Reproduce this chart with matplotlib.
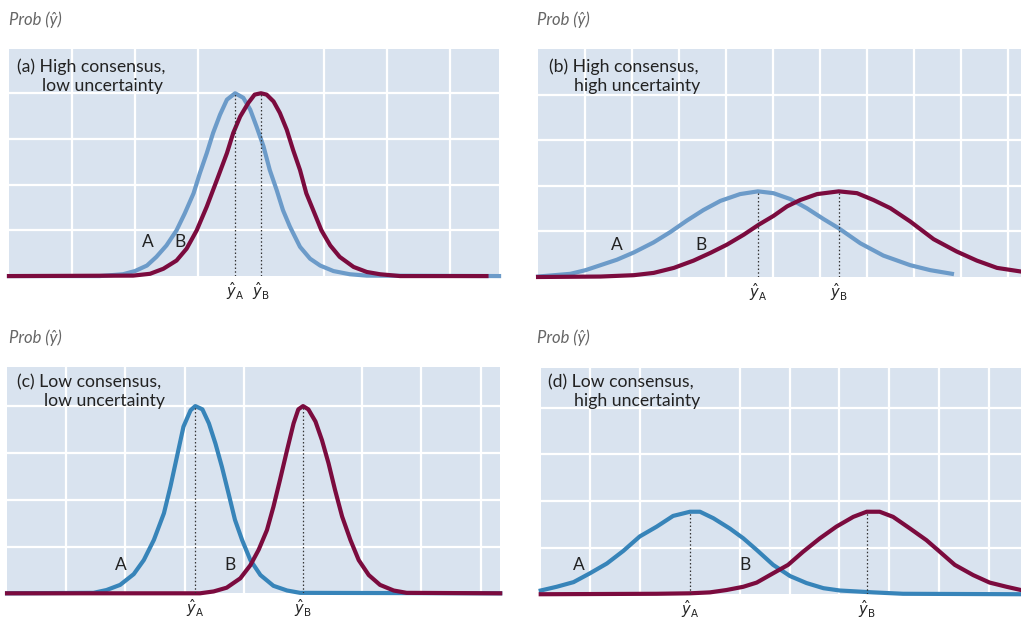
import numpy as np
import matplotlib.pyplot as plt

# colours
bg = '#d9e3ef'
blue_light = '#6c9bc9'
blue_dark = '#3784b9'
red = '#7b0b3e'

# ---- data (x in grid columns, y in grid rows) ----
# (a) High consensus, low uncertainty
a_A_x = [0, 1.44, 1.81, 2.0, 2.19, 2.34, 2.50, 2.66, 2.79, 2.93, 3.03, 3.14, 3.24, 3.35, 3.46, 3.59,
         3.72, 3.83, 3.93, 4.04, 4.14, 4.25, 4.35, 4.46, 4.62, 4.78, 4.94, 5.15, 5.41, 5.68, 7.78]
a_A_y = [0, 0, 0.04, 0.11, 0.23, 0.42, 0.67, 1.00, 1.37, 1.81, 2.25, 2.69, 3.13, 3.53, 3.86, 4.0,
         3.90, 3.64, 3.27, 2.84, 2.32, 1.88, 1.44, 1.08, 0.64, 0.38, 0.23, 0.11, 0.04, 0.01, 0]
a_B_x = [0, 1.97, 2.24, 2.45, 2.66, 2.82, 2.98, 3.14, 3.30, 3.46, 3.56, 3.67, 3.80, 3.90, 4.0,
         4.09, 4.20, 4.30, 4.41, 4.51, 4.62, 4.72, 4.83, 4.96, 5.10, 5.25, 5.47, 5.68, 5.89, 6.21, 7.58]
a_B_y = [0, 0.01, 0.05, 0.16, 0.34, 0.60, 1.00, 1.52, 2.10, 2.69, 3.13, 3.49, 3.79, 3.97, 4.0,
         3.97, 3.82, 3.57, 3.20, 2.76, 2.32, 1.81, 1.44, 1.00, 0.67, 0.42, 0.20, 0.09, 0.04, 0, 0]

# (b) High consensus, high uncertainty
b_A_x = [0, 0.69, 1.01, 1.33, 1.68, 2.04, 2.46, 2.82, 3.17, 3.52, 3.88, 4.30, 4.68, 5.01, 5.37,
         5.72, 6.08, 6.40, 6.86, 7.35, 7.92, 8.35, 8.81]
b_A_y = [0.01, 0.07, 0.15, 0.26, 0.38, 0.54, 0.76, 0.99, 1.24, 1.47, 1.67, 1.82, 1.88, 1.84, 1.71,
         1.51, 1.27, 1.07, 0.74, 0.47, 0.26, 0.15, 0.07]
b_B_x = [0, 1.33, 2.04, 2.46, 2.89, 3.31, 3.67, 4.02, 4.38, 4.70, 5.01, 5.30, 5.58, 5.94, 6.40,
         6.79, 7.14, 7.50, 7.92, 8.42, 8.91, 9.34, 9.77, 10.28]
b_B_y = [0, 0.01, 0.04, 0.09, 0.20, 0.36, 0.53, 0.71, 0.93, 1.15, 1.34, 1.55, 1.69, 1.82, 1.88,
         1.84, 1.69, 1.51, 1.22, 0.83, 0.56, 0.36, 0.20, 0.12]

# (c) Low consensus, low uncertainty
c_A_x = [0, 1.46, 1.68, 1.91, 2.14, 2.31, 2.48, 2.65, 2.76, 2.87, 2.98, 3.10, 3.18, 3.30, 3.41,
         3.52, 3.63, 3.74, 3.85, 3.97, 4.11, 4.28, 4.50, 4.73, 4.95, 8.33]
c_A_y = [0, 0.01, 0.07, 0.18, 0.41, 0.71, 1.14, 1.71, 2.28, 2.92, 3.56, 3.91, 4.0, 3.93, 3.63,
         3.20, 2.70, 2.14, 1.57, 1.14, 0.71, 0.39, 0.16, 0.06, 0.01, 0]
c_B_x = [0, 3.26, 3.49, 3.71, 3.94, 4.11, 4.25, 4.39, 4.50, 4.61, 4.73, 4.84, 4.92, 5.0, 5.09,
         5.21, 5.32, 5.43, 5.54, 5.66, 5.80, 5.94, 6.11, 6.30, 6.53, 6.75, 8.33]
c_B_y = [0, 0, 0.04, 0.12, 0.32, 0.60, 0.93, 1.35, 1.85, 2.42, 3.06, 3.63, 3.93, 4.0, 3.93,
         3.67, 3.27, 2.78, 2.21, 1.64, 1.14, 0.71, 0.39, 0.18, 0.06, 0.01, 0]

# (d) Low consensus, high uncertainty
d_A_x = [0, 0.32, 0.66, 0.99, 1.33, 1.66, 1.99, 2.33, 2.66, 3.0, 3.20, 3.47, 3.80, 4.07, 4.34,
         4.67, 5.01, 5.34, 5.68, 6.01, 6.68, 7.28, 9.65]
d_A_y = [0.08, 0.16, 0.26, 0.45, 0.66, 0.93, 1.24, 1.45, 1.68, 1.77, 1.77, 1.63, 1.41, 1.20, 0.95,
         0.63, 0.39, 0.24, 0.13, 0.08, 0.04, 0.01, 0]
d_B_x = [0, 2.33, 3.0, 3.40, 3.73, 4.07, 4.34, 4.67, 4.97, 5.27, 5.61, 5.94, 6.28, 6.55, 6.81,
         7.08, 7.42, 7.75, 8.02, 8.32, 8.69, 9.02, 9.36, 9.65]
d_B_y = [0, 0.01, 0.02, 0.04, 0.09, 0.16, 0.25, 0.45, 0.63, 0.91, 1.20, 1.45, 1.66, 1.77, 1.77,
         1.66, 1.41, 1.16, 0.91, 0.63, 0.41, 0.25, 0.16, 0.09]

titles = ['(a) High consensus,', '(b) High consensus,', '(c) Low consensus,', '(d) Low consensus,']
subtitles = ['low uncertainty', 'high uncertainty', 'low uncertainty', 'high uncertainty']
xmax = [7.78, 10.28, 8.33, 9.65]
ymax = [4.97, 5.0, 4.84, 4.86]
# label positions for A and B  (x, y)
lab_A = [(2.2, 0.75), (1.68, 0.71), (1.92, 0.6), (0.76, 0.63)]
lab_B = [(2.71, 0.75), (3.47, 0.71), (3.77, 0.6), (4.10, 0.63)]

series = [(a_A_x, a_A_y, a_B_x, a_B_y), (b_A_x, b_A_y, b_B_x, b_B_y),
          (c_A_x, c_A_y, c_B_x, c_B_y), (d_A_x, d_A_y, d_B_x, d_B_y)]
blues = [blue_light, blue_light, blue_dark, blue_dark]

# axes boxes in figure fraction, plus title placement
boxes = [[0.0088, 0.554, 0.480, 0.367],
         [0.527, 0.5525, 0.473, 0.368],
         [0.0069, 0.0415, 0.483, 0.366],
         [0.5296, 0.040, 0.4704, 0.366]]
title_pos = [(0.016, 0.067, 0.899, 0.815), (0.022, 0.075, 0.899, 0.816),
             (0.021, 0.074, 0.909, 0.826), (0.016, 0.069, 0.913, 0.831)]
prob_pos = [(9, 20), (537, 20), (9, 338), (537, 338)]

plt.rcParams['font.family'] = ['Lato', 'DejaVu Sans']
plt.rcParams['mathtext.fontset'] = 'dejavusans'

fig = plt.figure(figsize=(10.21, 6.19), dpi=100)

for i in range(4):
    ax = fig.add_axes(boxes[i])
    ax.set_facecolor(bg)
    for s in ax.spines.values():
        s.set_visible(False)
    ax.set_xlim(0, xmax[i])
    ax.set_ylim(0, ymax[i])

    ax.set_xticks(np.arange(1, xmax[i]), minor=True)
    ax.set_yticks(np.arange(1, ymax[i]), minor=True)
    ax.set_yticks([])
    ax.grid(which='minor', color='white', lw=1.6)
    ax.set_axisbelow(True)
    ax.tick_params(which='both', length=0)

    ax_x, ax_y, bx, by = series[i]
    ax.plot(ax_x, ax_y, color=blues[i], lw=3.0, clip_on=False, zorder=3,
            solid_joinstyle='round')
    ax.plot(bx, by, color=red, lw=3.0, clip_on=False, zorder=4, solid_joinstyle='round')

    # dotted lines down from each peak
    peaks = []
    for xs, ys in [(ax_x, ax_y), (bx, by)]:
        k = int(np.argmax(ys))
        ax.vlines(xs[k], 0, ys[k], colors='#333333', linestyles=(0, (1.2, 1.8)), lw=0.9, zorder=5)
        peaks.append(xs[k])
    ax.set_xticks(peaks)
    ax.set_xticklabels([r'$\hat{y}_{\mathsf{A}}$', r'$\hat{y}_{\mathsf{B}}$'], fontsize=10.5, color='#222222')
    ax.tick_params(axis='x', which='major', pad=3)

    ax.text(*lab_A[i], 'A', fontsize=12.5, color='#222222', ha='center', va='center', zorder=6)
    ax.text(*lab_B[i], 'B', fontsize=12.5, color='#222222', ha='center', va='center', zorder=6)

    x1, x2, y1, y2 = title_pos[i]
    ax.text(x1, y1, titles[i], transform=ax.transAxes, fontsize=12.7, color='#222222', va='baseline')
    ax.text(x2, y2, subtitles[i], transform=ax.transAxes, fontsize=12.7, color='#222222', va='baseline')

    px, py = prob_pos[i]
    fig.text(px / 1021, 1 - py / 619, 'Prob (ŷ)', fontsize=12, style='italic', color='#666666',
             va='center', ha='left')

fig.savefig('out.png', dpi=100)
